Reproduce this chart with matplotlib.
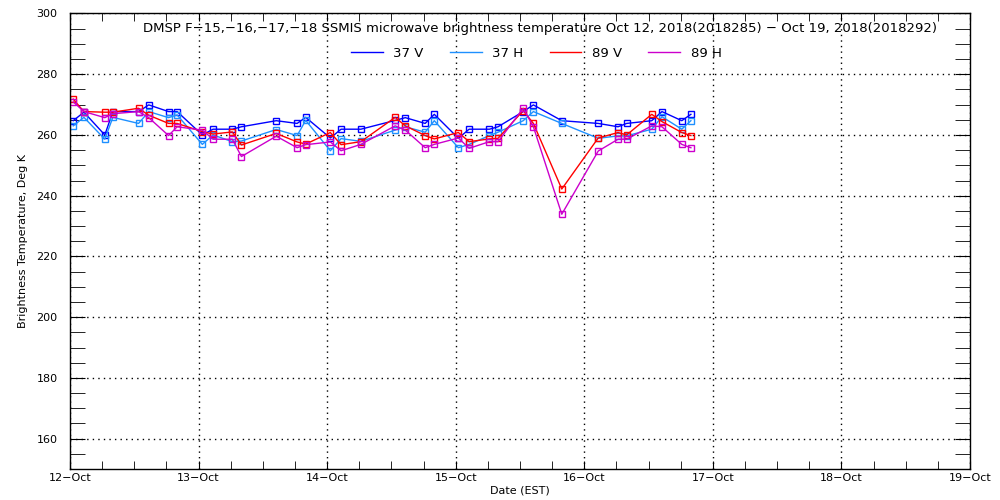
import numpy as np
import matplotlib
matplotlib.use('Agg')
import matplotlib.pyplot as plt
from matplotlib.ticker import MultipleLocator

# hours since 12-Oct-2018 00:00 (EST)
hours = np.array([0.6, 2.6, 6.5, 8.0, 12.8, 14.7, 18.4, 20.0, 24.7, 26.7, 30.3, 32.0,
                  38.5, 42.4, 44.0, 48.6, 50.6, 54.3, 60.7, 62.6, 66.3, 68.0, 72.5, 74.5,
                  78.3, 79.9, 84.6, 86.5, 91.8, 98.6, 102.3, 103.9, 108.6, 110.5, 114.2, 115.9])

tb_37v = [264.7, 267.5, 260.0, 267.7, 267.7, 269.9, 267.7, 267.7, 260.0, 261.9, 261.9, 262.7,
          264.7, 263.8, 265.8, 259.0, 261.9, 261.9, 264.8, 265.7, 263.8, 266.8, 258.9, 261.9,
          261.9, 262.7, 267.7, 269.9, 264.7, 263.8, 262.7, 263.8, 264.7, 267.7, 264.7, 266.8]
tb_37h = [263.0, 265.8, 258.6, 265.8, 263.8, 267.7, 265.7, 266.6, 256.9, 260.0, 257.8, 258.0,
          261.8, 259.8, 264.8, 254.8, 258.8, 257.9, 261.6, 262.7, 260.9, 264.7, 255.8, 256.9,
          259.8, 260.9, 264.7, 267.7, 263.8, 258.9, 259.7, 259.7, 261.9, 266.0, 261.9, 264.7]
tb_89v = [271.8, 267.7, 267.5, 267.5, 268.8, 266.5, 263.8, 263.8, 261.1, 260.3, 261.0, 256.7,
          260.5, 257.7, 257.0, 260.8, 256.8, 257.8, 265.8, 263.0, 259.8, 258.7, 260.8, 257.8,
          258.7, 258.9, 268.0, 263.8, 242.2, 259.0, 260.8, 260.0, 266.8, 264.4, 260.8, 259.8]
tb_89h = [270.9, 267.7, 265.7, 267.0, 267.7, 265.7, 259.8, 262.7, 261.6, 258.6, 258.6, 252.9,
          259.6, 255.8, 256.8, 257.7, 254.8, 256.9, 263.0, 261.6, 255.8, 256.9, 259.0, 255.6,
          257.8, 257.8, 268.8, 262.7, 233.9, 254.7, 258.6, 258.6, 263.0, 262.7, 256.9, 255.8]

names = ['37 V', '37 H', '89 V', '89 H']
colors = ['#0000ff', '#1e90ff', '#ff0000', '#cc00cc']
day_labels = ['12\u2212Oct', '13\u2212Oct', '14\u2212Oct', '15\u2212Oct',
              '16\u2212Oct', '17\u2212Oct', '18\u2212Oct', '19\u2212Oct']

title = ('DMSP F\u221215,\u221216,\u221217,\u221218 SSMIS microwave brightness temperature '
         'Oct 12, 2018(2018285) \u2212 Oct 19, 2018(2018292)')

fig = plt.figure(figsize=(10, 5), dpi=100, facecolor='white')
ax = fig.add_axes([0.070, 0.062, 0.900, 0.911])

days = hours / 24.0
for tb, c, n in zip([tb_37v, tb_37h, tb_89v, tb_89h], colors, names):
    ax.plot(days, tb, '-s', color=c, lw=1, ms=5, mfc='none', mec=c, mew=1, label=n)

ax.set_xlim(0, 7)
ax.set_ylim(150, 300)
ax.set_xticks(np.arange(8))
ax.set_xticklabels(day_labels)
ax.xaxis.set_minor_locator(MultipleLocator(0.25))
ax.yaxis.set_major_locator(MultipleLocator(20))
ax.yaxis.set_minor_locator(MultipleLocator(5))

ax.tick_params(which='both', direction='in', top=True, right=True, labelsize=8, color='black')
ax.tick_params(axis='y', which='both', length=11, pad=9)
ax.tick_params(axis='x', which='both', length=5.5, pad=3)
ax.grid(True, which='major', color='black', linestyle=(0, (1, 3)), linewidth=1)
for s in ax.spines.values():
    s.set_linewidth(1)

ax.set_xlabel('Date (EST)', fontsize=8, labelpad=2)
ax.set_ylabel('Brightness Temperature, Deg K', fontsize=8, labelpad=14)
ax.yaxis.set_label_coords(-0.047, 0.5)

ax.text(0.522, 0.966, title, transform=ax.transAxes, ha='center', va='center', fontsize=9.5)
ax.legend(loc='center', bbox_to_anchor=(0.518, 0.912), ncol=4, frameon=False, fontsize=9.5,
          handlelength=2.4, columnspacing=2.0, handletextpad=0.8, borderaxespad=0)

# legend shows lines only
for h in ax.get_legend().legend_handles:
    h.set_marker('')

plt.savefig('out.png', dpi=100, facecolor='white')
